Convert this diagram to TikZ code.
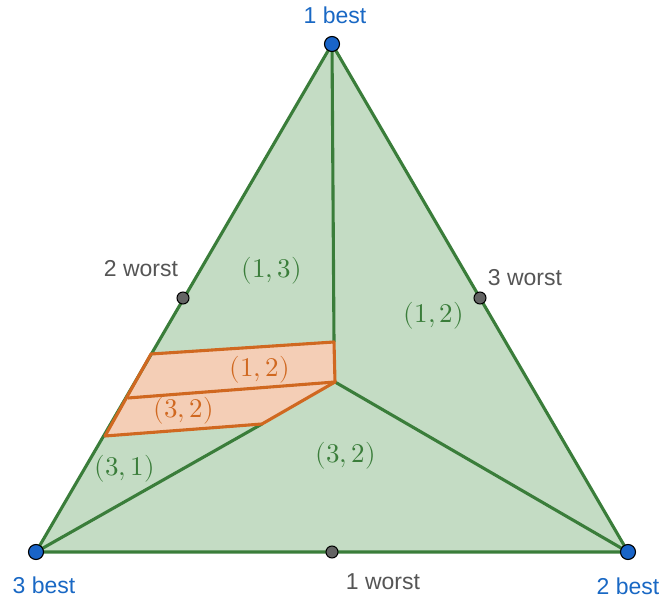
\documentclass[tikz,border=0pt]{standalone}
\usepackage{fontspec}
\usepackage{unicode-math}
\setmathfont{Latin Modern Math}
\setsansfont{Liberation Sans}
\definecolor{gfill}{RGB}{196,220,196}
\definecolor{gline}{RGB}{58,125,58}
\definecolor{ofill}{RGB}{244,206,182}
\definecolor{oline}{RGB}{208,104,32}
\definecolor{bluelab}{RGB}{25,104,196}
\definecolor{bluedot}{RGB}{25,100,200}
\definecolor{graylab}{RGB}{85,85,85}
\definecolor{graydot}{RGB}{100,100,100}
\tikzset{
  edge/.style={draw=gline, line width=3.1pt, line join=round},
  oedge/.style={draw=oline, line width=3.1pt, line join=round},
  vdot/.style={circle, fill=bluedot, draw=black, line width=1.1pt, inner sep=0pt, minimum size=15pt},
  mdot/.style={circle, fill=graydot, draw=black, line width=1pt, inner sep=0pt, minimum size=12pt},
  bestlab/.style={text=bluelab, font=\sffamily\fontsize{23}{26}\selectfont},
  worstlab/.style={text=graylab, font=\sffamily\fontsize{23}{26}\selectfont},
  glab/.style={text=gline, font=\fontsize{27}{30}\selectfont},
  olab/.style={text=oline, font=\fontsize{27}{30}\selectfont},
}
\begin{document}
\begin{tikzpicture}[x=1pt,y=-1pt]
\useasboundingbox (0,0) rectangle (662,601);
% points
\coordinate (T) at (332,44);
\coordinate (L) at (36,552);
\coordinate (R) at (628,552);
\coordinate (C) at (335,382);
\coordinate (ML) at (183,298);
\coordinate (MR) at (480,298);
\coordinate (MB) at (332,552);
\coordinate (O1) at (151,354);
\coordinate (O2) at (334,342);
\coordinate (O3) at (128,398);
\coordinate (O4) at (262,424);
\coordinate (O5) at (105,436);
% triangle
\fill[gfill] (T) -- (R) -- (L) -- cycle;
\fill[ofill] (O1) -- (O2) -- (C) -- (O4) -- (O5) -- cycle;
\draw[edge] (T) -- (R) -- (L) -- cycle;
\draw[edge] (T) -- (O2);
\draw[edge] (C) -- (R);
\draw[edge] (O4) -- (L);
\draw[oedge] (O1) -- (O2) -- (C) -- (O4) -- (O5) -- cycle;
\draw[oedge] (O3) -- (C);
% dots
\node[vdot] (vT) at (T) {};
\node[vdot] (vL) at (L) {};
\node[vdot] (vR) at (R) {};
\node[mdot] (dML) at (ML) {};
\node[mdot] (dMR) at (MR) {};
\node[mdot] (dMB) at (MB) {};
% labels
\node[bestlab] (l1b) at (335,15) {1 best};
\node[bestlab] (l3b) at (44,585) {3 best};
\node[bestlab] (l2b) at (628,586) {2 best};
\node[worstlab] (l2w) at (141,269) {2 worst};
\node[worstlab] (l3w) at (525,278) {3 worst};
\node[worstlab] (l1w) at (383,582) {1 worst};
\node[glab] (r13) at (272,271) {$(1,3)$};
\node[glab] (r12) at (434,316) {$(1,2)$};
\node[olab] (o12) at (260,370) {$(1,2)$};
\node[olab] (o32) at (184,411) {$(3,2)$};
\node[glab] (r31) at (125,469) {$(3,1)$};
\node[glab] (r32) at (346,456) {$(3,2)$};
\end{tikzpicture}
\end{document}
